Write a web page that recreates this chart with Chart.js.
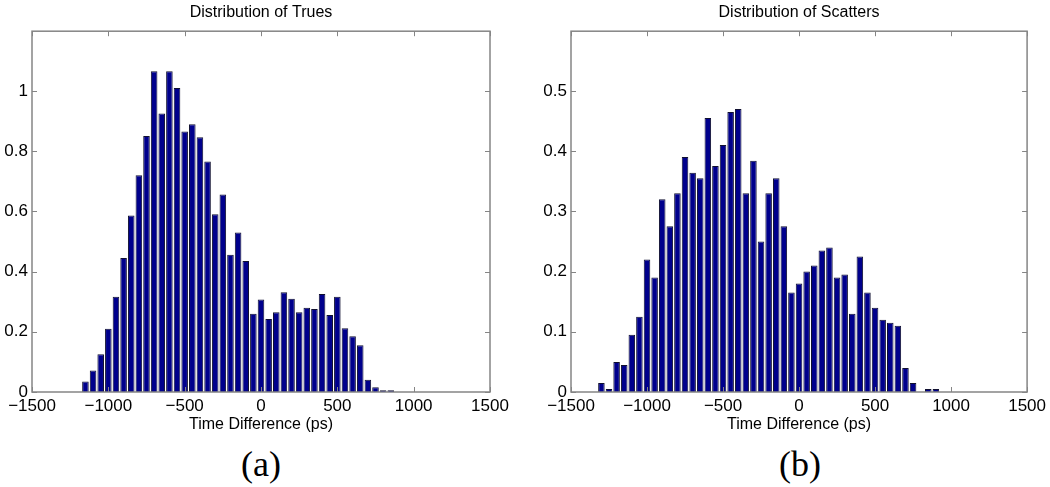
<!DOCTYPE html>
<html>
<head>
<meta charset="utf-8">
<script src="https://cdn.jsdelivr.net/npm/chart.js@4.4.1/dist/chart.umd.min.js"></script>
<style>
html,body{margin:0;padding:0;background:#fff;width:1050px;height:487px;overflow:hidden;}
canvas{position:absolute;top:0;}
.cap{position:absolute;top:444px;width:200px;height:40px;line-height:40px;text-align:center;
 font-family:"Liberation Serif","DejaVu Serif",serif;font-size:36px;color:#000;}
</style>
</head>
<body>
<canvas id="c1" width="525" height="440" style="left:0"></canvas>
<canvas id="c2" width="525" height="440" style="left:525px"></canvas>
<div class="cap" style="left:161px">(a)</div>
<div class="cap" style="left:700px">(b)</div>
<script>
// ---- data (bin centres in ps, normalised counts) ----
const trueBins = [-1150,-1100,-1050,-1000,-950,-900,-850,-800,-750,-700,-650,-600,-550,-500,-450,-400,-350,-300,-250,-200,-150,-100,-50,0,50,100,150,200,250,300,350,400,450,500,550,600,650,700,750,800,850];
const trueValues = [0.035,0.071,0.125,0.21,0.316,0.445,0.586,0.72,0.85,1.065,0.925,1.065,1.009,0.865,0.889,0.846,0.765,0.59,0.656,0.456,0.53,0.435,0.26,0.307,0.242,0.265,0.331,0.31,0.265,0.28,0.276,0.325,0.256,0.316,0.212,0.185,0.155,0.041,0.016,0.006,0.006];

const scatterBins = [-1300,-1250,-1200,-1150,-1100,-1050,-1000,-950,-900,-850,-800,-750,-700,-650,-600,-550,-500,-450,-400,-350,-300,-250,-200,-150,-100,-50,0,50,100,150,200,250,300,350,400,450,500,550,600,650,700,750,800,850,900];
const scatterValues = [0.015,0.005,0.05,0.045,0.095,0.125,0.22,0.19,0.32,0.275,0.33,0.39,0.364,0.355,0.455,0.375,0.41,0.465,0.47,0.33,0.384,0.25,0.33,0.355,0.275,0.165,0.18,0.2,0.21,0.235,0.24,0.19,0.195,0.13,0.225,0.165,0.14,0.12,0.115,0.11,0.04,0.015,0,0.005,0.005];

const xTicks = [-1500,-1000,-500,0,500,1000,1500];
const titles = ['Distribution of Trues','Distribution of Scatters'];
const xTitle = 'Time Difference (ps)';

const FONT = '"Liberation Sans", Arial, Helvetica, sans-serif';

const framePlugin = {
  id: 'frame',
  afterDatasetsDraw(chart) {
    const {ctx, chartArea: a, scales: {x, y}} = chart;
    ctx.save();
    ctx.strokeStyle = '#858585';
    ctx.lineWidth = 1;
    ctx.beginPath();
    x.ticks.forEach(t => {
      const px = Math.round(x.getPixelForValue(t.value)) + 0.5;
      ctx.moveTo(px, a.bottom); ctx.lineTo(px, a.bottom - 5);
      ctx.moveTo(px, a.top); ctx.lineTo(px, a.top + 5);
    });
    y.ticks.forEach(t => {
      const py = Math.round(y.getPixelForValue(t.value)) + 0.5;
      ctx.moveTo(a.left, py); ctx.lineTo(a.left + 5, py);
      ctx.moveTo(a.right, py); ctx.lineTo(a.right - 5, py);
    });
    ctx.stroke();
    ctx.lineWidth = 1.5;
    ctx.strokeRect(a.left, a.top, a.right - a.left, a.bottom - a.top);
    ctx.restore();
  }
};

function makeChart(id, bins, values, title, yMax, yStep, yAxisWidth, padRight) {
  return new Chart(document.getElementById(id), {
    type: 'bar',
    data: {
      datasets: [{
        data: bins.map((b, i) => ({x: b, y: values[i]})),
        backgroundColor: '#00008c',
        borderColor: '#101030',
        borderWidth: 1,
        barPercentage: 0.86,
        categoryPercentage: 1.0
      }]
    },
    options: {
      responsive: false,
      animation: false,
      devicePixelRatio: 1,
      layout: {padding: {left: 0, right: padRight, top: 0, bottom: 6}},
      plugins: {
        legend: {display: false},
        tooltip: {enabled: false},
        title: {
          display: true, text: title, fullSize: false, color: '#000',
          font: {family: FONT, size: 16, weight: 'normal'},
          padding: {top: 3, bottom: 9}
        }
      },
      scales: {
        x: {
          type: 'linear', min: -1500, max: 1500, offset: false,
          grid: {display: false, drawTicks: false, offset: false},
          border: {display: false},
          afterBuildTicks: s => { s.ticks = xTicks.map(v => ({value: v})); },
          afterFit: s => { s.height = 42; },
          ticks: {
            color: '#000', padding: 4, autoSkip: false, maxRotation: 0,
            font: {family: FONT, size: 17},
            callback: v => String(v).replace('-', '\u2212')
          },
          title: {
            display: true, text: xTitle, color: '#000',
            font: {family: FONT, size: 16}, padding: {top: 0, bottom: 0}
          }
        },
        y: {
          min: 0, max: yMax,
          grid: {display: false, drawTicks: false},
          border: {display: false},
          afterFit: s => { s.width = yAxisWidth; },
          ticks: {
            stepSize: yStep, includeBounds: false, color: '#000', padding: 4,
            font: {family: FONT, size: 17},
            callback: v => String(Number(v.toFixed(2)))
          }
        }
      }
    },
    plugins: [framePlugin]
  });
}

makeChart('c1', trueBins, trueValues, titles[0], 1.198, 0.2, 32, 35);
makeChart('c2', scatterBins, scatterValues, titles[1], 0.599, 0.1, 46, 21);
</script>
</body>
</html>
